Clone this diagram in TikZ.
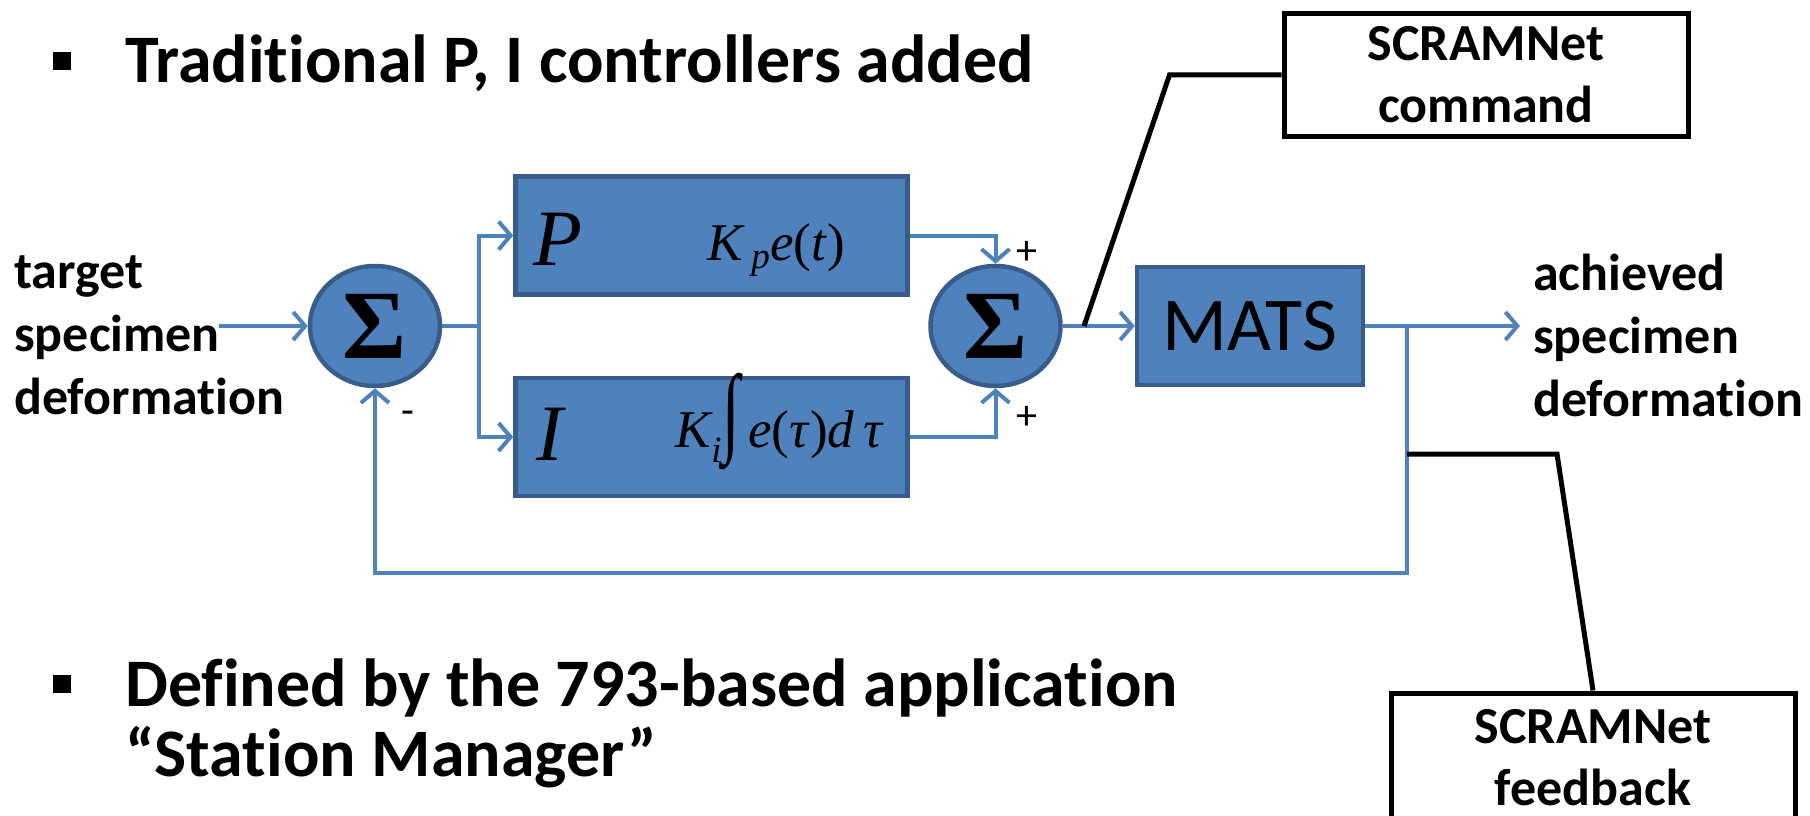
\documentclass[tikz,border=0pt]{standalone}
\usepackage{graphicx}
\usepackage{fontspec}
\setmainfont{Carlito}[Renderer=OpenType,Ligatures={NoCommon,NoRare},Contextuals=NoAlternate]
\newfontfamily\timesfont{Liberation Serif}
\usepackage{tikz}
\usetikzlibrary{positioning,arrows.meta,shapes.geometric}

\definecolor{ctrlblue}{HTML}{4F81BD}
\definecolor{ctrledge}{HTML}{385D8A}

% keeps t and i apart (Carlito joins them)
\newcommand{\nolig}{\kern0pt}

\tikzset{
  block/.style={draw=ctrledge, fill=ctrlblue, line width=4.5pt, inner sep=0pt,
    minimum height=118pt},
  sumnode/.style={ellipse, draw=ctrledge, fill=ctrlblue, line width=4.5pt, inner sep=0pt,
    minimum width=130pt, minimum height=120pt,
    font=\timesfont\bfseries\fontsize{98}{98}\selectfont},
  note/.style={draw=black, line width=5pt, minimum width=404pt, inner sep=0pt,
    align=center, font=\bfseries\fontsize{52}{62}\selectfont},
  sig/.style={draw=ctrlblue, line width=4pt},
  flow/.style={sig, -{Straight Barb[length=12pt,width=28pt]}},
  lead/.style={draw=black, line width=5pt},
  bigtext/.style={font=\bfseries\fontsize{68}{70}\selectfont, anchor=base west, inner sep=0pt},
  sidetext/.style={font=\bfseries\fontsize{52}{63}\selectfont, align=left, inner sep=0pt, anchor=west},
  gainletter/.style={font=\timesfont\itshape\fontsize{80}{80}\selectfont, anchor=base, inner sep=0pt},
  gainlaw/.style={font=\timesfont\itshape\fontsize{53}{53}\selectfont, anchor=base, inner sep=0pt},
  sign/.style={font=\fontsize{42}{42}\selectfont, inner sep=0pt}
}

\begin{document}
\begin{tikzpicture}[x=1pt, y=-1pt]
  \useasboundingbox (0,0) rectangle (1810,816);
  \clip (0,0) rectangle (1810,816);

  % bullet points
  \fill (53,52) rectangle (71,70);
  \node[bigtext] (head) at (125,83) {Tradit\nolig ional P, I controllers added};
  \fill (53,675) rectangle (71,693);
  \node[bigtext] (defa) at (125,706) {Defined by the 793-based applicat\nolig ion};
  \node[bigtext] (defb) at (125,776) {“Stat\nolig ion Manager”};

  % loop
  \node[sumnode] (sum1) at (375,326) {Σ};
  \node[block, minimum width=392pt] (P) at (711.5,235.5) {};
  \node[block, minimum width=392pt, below=79pt of P] (I) {};
  \node[sumnode] (sum2) at (995.5,326) {Σ};
  \node[block, minimum width=226pt, right=72pt of sum2,
    font=\fontsize{76}{76}\selectfont] (MATS) {MATS};

  \node[gainletter] (Plab) at (558,265) {P};
  \node[gainlaw] (Plaw) at (776,260) {K\,\textsubscript{p}e\textup{(}t\textup{)}};
  \node[gainletter] (Ilab) at (550,460) {I};
  \node[gainlaw] (Ilaw) at (779,447)
    {K\textsubscript{i}\raisebox{4pt}{\scalebox{1.2}[1.86]{\textup{∫}}}\,e\textup{(}τ\textup{)}d\,τ};

  \node[sign] (plus1) at (1027,253) {+};
  \node[sign] (plus2) at (1027,418) {+};
  \node[sign] (minus) at (408,418) {-};

  \node[sidetext] (target) at (14,335) {target\\specimen\\deformat\nolig ion};
  \node[sidetext] (achieved) at (1533,335) {achieved\\specimen\\deformat\nolig ion};

  \node[note, minimum height=122pt] (cmd) at (1486,75) {SCRAMNet\\command};
  \node[note, minimum height=130pt, anchor=north] (fb) at (1593,690.5) {SCRAMNet\\feedback};

  \coordinate (in) at (219,326);
  \coordinate (split) at (479,326);
  \coordinate (tap) at (1407,326);
  \coordinate (out) at (1520,326);
  \coordinate (cmdtap) at (1084,326);
  \coordinate (fbtap) at (1407,454);

  \draw[flow] (in) -- (sum1);
  \draw[sig] (sum1) -- (split);
  \draw[flow] (split) |- (P);
  \draw[flow] (split) |- (I);
  \draw[flow] (P) -| (sum2);
  \draw[flow] (I) -| (sum2);
  \draw[flow] (sum2) -- (MATS);
  \draw[flow] (MATS) -- (out);
  \draw[flow] (tap) -- ++(0,247) -| (sum1);

  \draw[lead] (cmd.west) -- ++(-112,0) -- (cmdtap);
  \draw[lead] (fbtap) -- ++(150,0) -- (fb.north);
\end{tikzpicture}
\end{document}
